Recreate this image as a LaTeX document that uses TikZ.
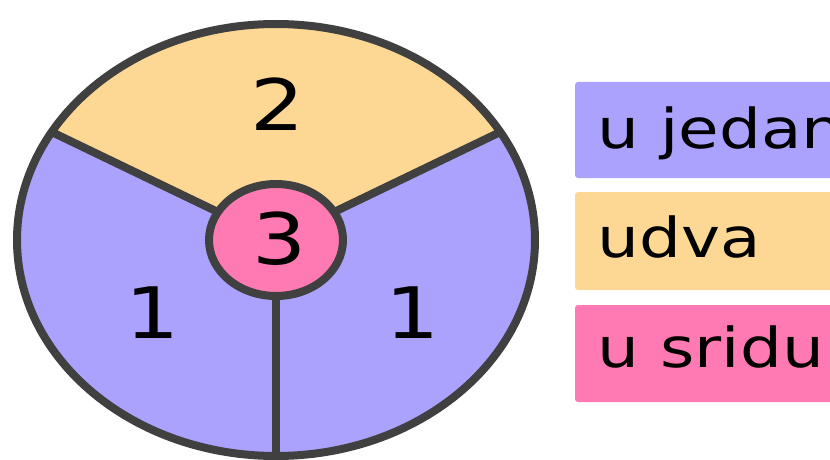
\documentclass[tikz,border=0pt]{standalone}
\usepackage{fontspec}
\usepackage{graphicx}
\setmainfont{DejaVu Sans}
\definecolor{rim}{RGB}{64,64,64}
\definecolor{one}{RGB}{170,162,252}
\definecolor{two}{RGB}{253,215,148}
\definecolor{three}{RGB}{255,122,178}
\newcommand{\wide}[1]{\scalebox{1.2}[1]{#1}}

\begin{document}
\begin{tikzpicture}
				[x=1pt,y=1pt,
					part/.style={draw=rim,line width=8pt},
					digit/.style={inner sep=0pt,font=\fontsize{71}{75}\selectfont},
					key/.style={inner sep=0pt,anchor=base west,font=\fontsize{55}{60}\selectfont},
					keybox/.style={rounded corners=3pt}]
				\useasboundingbox (0,0) rectangle (830,459);
				\clip (0,0) rectangle (830,459);
				\coordinate (c) at (276,219);
				% sectors
				\fill[one] (c) ellipse [x radius=259,y radius=216];
				\fill[two] (c) -- ++({259*cos(30)},{216*sin(30)})
				  arc [start angle=30,end angle=150,x radius=259,y radius=216] -- cycle;
				\foreach \a in {30,150,270}
				  \draw[part] (c) -- ++({259*cos(\a)},{216*sin(\a)});
				\draw[part] (c) ellipse [x radius=259,y radius=216];
				\filldraw[part,fill=three] (c) ellipse [x radius=67,y radius=56];
				\node[digit] (n2) at (278,355) {\wide{2}};
				\node[digit] (n3) at (280,220.5) {\wide{3}};
				\node[digit] (n1a) at (152.5,146) {\wide{1}};
				\node[digit] (n1b) at (412.5,146) {\wide{1}};
				% legend
				\fill[one,keybox] (575,281) rectangle (900,377);
				\fill[two,keybox] (575,169) rectangle (900,267);
				\fill[three,keybox] (575,57) rectangle (900,154);
				\node[key] (k1) at (597.5,311) {\wide{u jedan}};
				\node[key] (k2) at (597.5,202) {\wide{udva}};
				\node[key] (k3) at (597.5,92) {\wide{u sridu}};
			\end{tikzpicture}
\end{document}
